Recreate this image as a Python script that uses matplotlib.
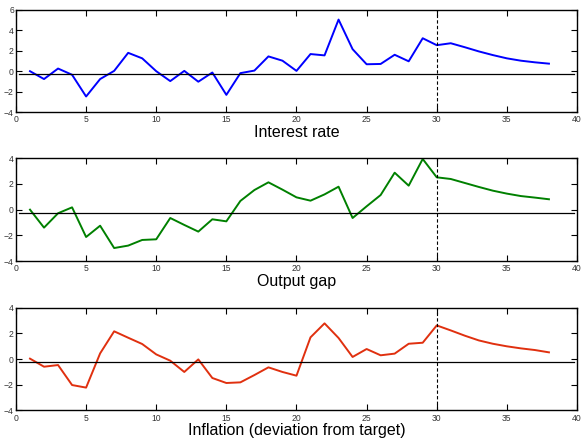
import matplotlib
matplotlib.use("Agg")
import matplotlib.pyplot as plt

plt.rcParams['font.family'] = ['Liberation Sans', 'DejaVu Sans']

# --- dados ---
periodos = list(range(1, 39))

juros = [0.0, -0.77, 0.26, -0.35, -2.48, -0.77, 0.03, 1.8, 1.26, 0.0,
         -0.97, 0.03, -1.03, -0.13, -2.32, -0.19, 0.06, 1.45, 1.03, 0.03,
         1.68, 1.55, 5.06, 2.16, 0.68, 0.71, 1.61, 0.97, 3.23, 2.55,
         2.74, 2.35, 1.94, 1.58, 1.26, 1.03, 0.87, 0.74]

hiato = [0.0, -1.4, -0.28, 0.18, -2.13, -1.25, -2.99, -2.8, -2.36, -2.31,
         -0.65, -1.19, -1.71, -0.75, -0.91, 0.68, 1.53, 2.13, 1.56, 0.96,
         0.7, 1.19, 1.79, -0.65, 0.26, 1.14, 2.88, 1.87, 3.95, 2.52,
         2.39, 2.08, 1.77, 1.48, 1.25, 1.06, 0.94, 0.81]

inflacao = [0.03, -0.6, -0.47, -2.03, -2.23, 0.44, 2.16, 1.66, 1.17, 0.36,
            -0.13, -1.01, -0.03, -1.48, -1.87, -1.82, -1.25, -0.65, -1.01, -1.3,
            1.69, 2.78, 1.64, 0.16, 0.78, 0.29, 0.42, 1.19, 1.27, 2.62,
            2.23, 1.82, 1.45, 1.19, 0.99, 0.83, 0.7, 0.52]

titulos = ['Interest rate', 'Output gap', 'Inflation (deviation from target)']
series = [juros, hiato, inflacao]
cores = ['#0000ff', '#008000', '#e0300f']
limites_y = [(-4, 6), (-4, 4), (-4, 4)]
linha_base = [-0.3, -0.25, -0.2]
inicio_projecao = 30

# posições dos painéis (fração da figura)
posicoes = [[0.0274, 0.7466, 0.9623, 0.2308],
            [0.0274, 0.4095, 0.9623, 0.2323],
            [0.0274, 0.0717, 0.9623, 0.2321]]

fig = plt.figure(figsize=(5.83, 4.42), dpi=100)

for pos, y, cor, tit, lim, base in zip(posicoes, series, cores, titulos, limites_y, linha_base):
    ax = fig.add_axes(pos)
    ax.plot(periodos, y, color=cor, linewidth=1.4)
    ax.axhline(base, xmin=0.005, xmax=0.995, color='black', linewidth=0.9)
    ax.axvline(inicio_projecao, color='black', linestyle='--', linewidth=0.8, dashes=(3, 2))
    ax.set_xlim(0, 40)
    ax.set_ylim(*lim)
    ax.set_xticks(range(0, 41, 5))
    ax.set_yticks(range(lim[0], lim[1] + 1, 2))
    ax.tick_params(direction='in', top=True, right=True, length=4, width=0.8,
                   labelsize=6.2, labelcolor='#333333', pad=2.5)
    ax.tick_params(axis='y', pad=1.5)
    for s in ax.spines.values():
        s.set_linewidth(1.0)
    ax.set_xlabel(tit, fontsize=11.5, labelpad=0.5)

fig.savefig('out.png', dpi=100)
